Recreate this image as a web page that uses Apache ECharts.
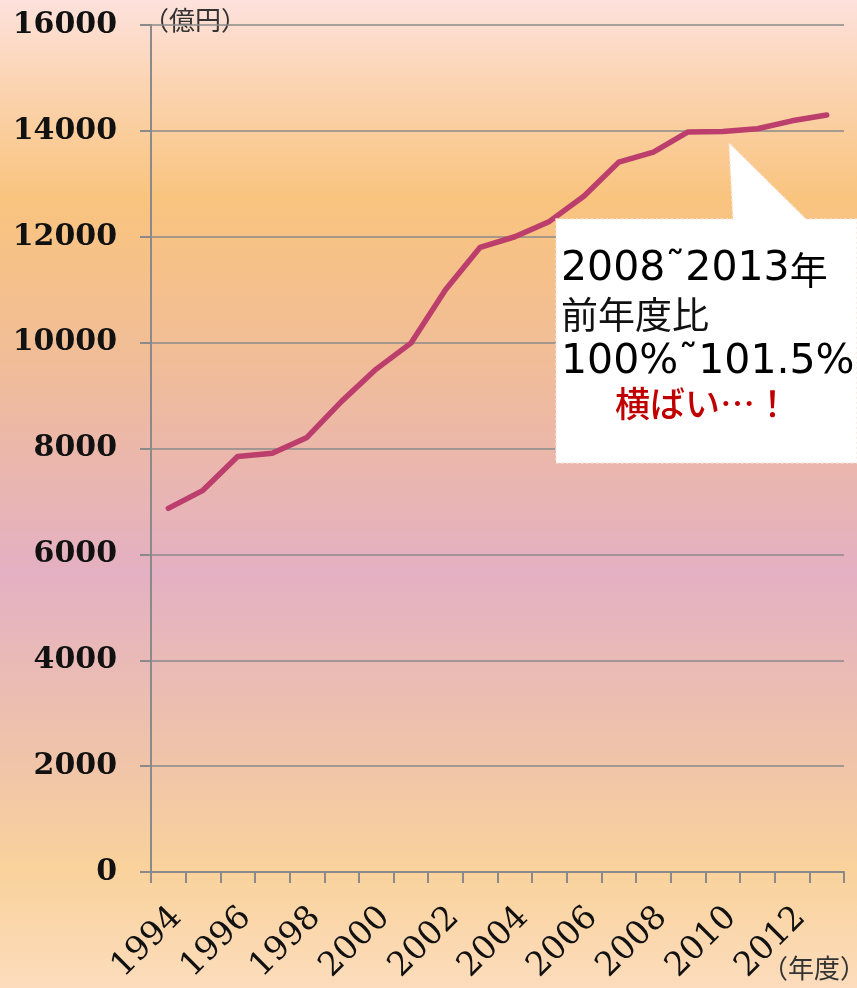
<!DOCTYPE html>
<html>
<head>
<meta charset="utf-8">
<script src="https://cdn.jsdelivr.net/npm/echarts@6/dist/echarts.min.js"></script>
<style>
html,body{margin:0;padding:0;}
#chart{width:857px;height:988px;}
</style>
</head>
<body>
<div id="chart"></div>
<script>
// ---- data ----
const years = ['1994','1995','1996','1997','1998','1999','2000','2001','2002','2003','2004','2005','2006','2007','2008','2009','2010','2011','2012','2013'];
const values = [6870, 7210, 7850, 7910, 8210, 8890, 9500, 9990, 11000, 11800, 12000, 12290, 12770, 13410, 13600, 13980, 13990, 14040, 14190, 14300];
const yTicks = { min: 0, max: 16000, interval: 2000 };
const yUnit = '（億円）';
const xUnit = '（年度）';
const noteLine1 = ['2008', '˜', '2013', '年'];
const noteLine2 = '前年度比';
const noteLine3 = ['100%', '˜', '101.5%'];
const noteEmph = '横ばい…！';

const chart = echarts.init(document.getElementById('chart'));
const gray = '#8a8a8a';
const numFont = '"DejaVu Sans", "Noto Sans CJK JP"';
const rich = {
  d: { fontFamily: numFont, fontSize: 41, color: '#111' },
  t: { fontFamily: 'DejaVu Sans', fontSize: 40, color: '#111' },
  c: { fontFamily: '"Noto Sans CJK JP"', fontSize: 38, color: '#111' }
};
const option = {
  animation: false,
  backgroundColor: {
    type: 'linear', x: 0, y: 0, x2: 0, y2: 1,
    colorStops: [
      { offset: 0.00, color: '#fde1dc' },
      { offset: 0.07, color: '#fbd6b9' },
      { offset: 0.20, color: '#f9c47e' },
      { offset: 0.36, color: '#f1bd97' },
      { offset: 0.58, color: '#e4b0c3' },
      { offset: 0.76, color: '#efc3aa' },
      { offset: 0.88, color: '#f9d29c' },
      { offset: 1.00, color: '#fcdcbc' }
    ]
  },
  grid: { left: 151, right: 13, top: 25, bottom: 116, containLabel: false },
  xAxis: {
    type: 'category',
    data: years,
    boundaryGap: true,
    axisLine: { show: true, lineStyle: { color: gray, width: 2 } },
    axisTick: { show: true, interval: 0, length: 11, lineStyle: { color: gray, width: 2 } },
    axisLabel: {
      interval: 1,
      rotate: 45,
      margin: 32,
      verticalAlign: 'top',
      lineHeight: 24,
      fontFamily: 'DejaVu Serif',
      fontSize: 33,
      color: '#111'
    },
    splitLine: { show: false }
  },
  yAxis: {
    type: 'value',
    min: yTicks.min, max: yTicks.max, interval: yTicks.interval,
    axisLine: { show: true, lineStyle: { color: gray, width: 2 } },
    axisTick: { show: true, length: 11, lineStyle: { color: gray, width: 2 } },
    axisLabel: {
      margin: 34,
      formatter: v => String(v),
      fontFamily: 'DejaVu Serif',
      fontWeight: 'bold',
      fontSize: 30,
      color: '#111'
    },
    splitLine: { show: true, lineStyle: { color: gray, width: 1.6 } }
  },
  series: [{
    type: 'line',
    data: values,
    symbol: 'none',
    lineStyle: { color: '#bc3e6c', width: 5.5, cap: 'round', join: 'round' }
  }],
  graphic: [
    { type: 'text', left: 143, top: 7, style: { text: yUnit, font: '26px "Noto Sans CJK JP"', fill: '#333' } },
    { type: 'text', left: 762, top: 955, style: { text: xUnit, font: '26px "Noto Sans CJK JP"', fill: '#333' } },
    { type: 'polygon', shape: { points: [[556, 219], [733, 219], [729, 143], [806, 219], [857, 219], [857, 463], [556, 463]] },
      style: { fill: '#ffffff', stroke: '#f6e6df', lineWidth: 1.5, lineDash: [2, 3] }, z: 10 },
    { type: 'text', left: 561, top: 249, z: 11, style: {
        text: '{d|' + noteLine1[0] + '}{t|' + noteLine1[1] + '}{d|' + noteLine1[2] + '}{c|' + noteLine1[3] + '}', rich: rich } },
    { type: 'text', left: 561, top: 296, z: 11, style: { text: noteLine2, font: '37px "Noto Sans CJK JP"', fill: '#111' } },
    { type: 'text', left: 561, top: 342, z: 11, style: {
        text: '{d|' + noteLine3[0] + '}{t|' + noteLine3[1] + '}{d|' + noteLine3[2] + '}', rich: rich } },
    { type: 'text', left: 615, top: 386, z: 11, style: { text: noteEmph, font: '500 35px "Noto Sans CJK JP"', fill: '#c00000' } }
  ]
};
chart.setOption(option);
</script>
</body>
</html>
